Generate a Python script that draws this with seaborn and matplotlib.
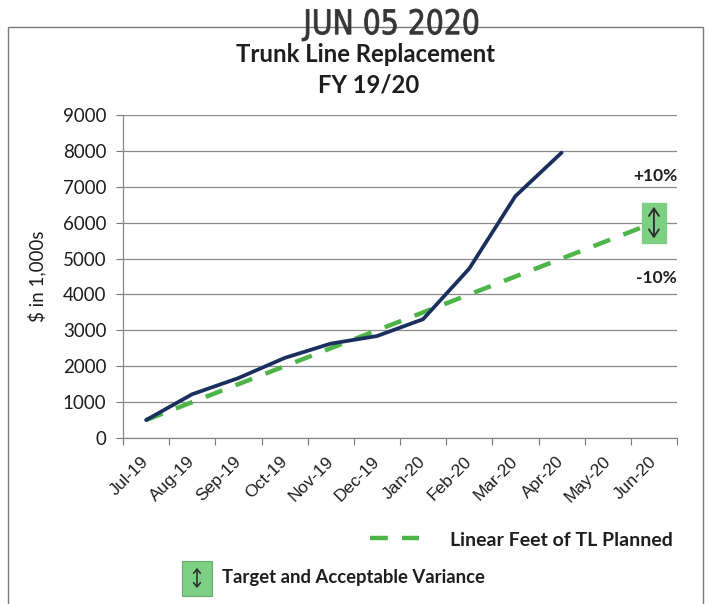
import numpy as np
import pandas as pd
import matplotlib
matplotlib.use("Agg")
import matplotlib.pyplot as plt
from matplotlib.path import Path
from matplotlib.patches import Rectangle, PathPatch, FancyArrowPatch
from matplotlib.lines import Line2D
from matplotlib.textpath import TextPath
from matplotlib.font_manager import FontProperties
from matplotlib.transforms import Affine2D, IdentityTransform
import seaborn as sns

# Monthly spend, $ in 1,000s
months = ["Jul-19", "Aug-19", "Sep-19", "Oct-19", "Nov-19", "Dec-19",
          "Jan-20", "Feb-20", "Mar-20", "Apr-20", "May-20", "Jun-20"]
actual = [500, 1220, 1670, 2230, 2630, 2840, 3310, 4720, 6740, 7950]
planned = [500, 1000, 1500, 2000, 2500, 3000, 3500, 4000, 4500, 5000, 5500, 6000]
target_month = "Jun-20"
target_value = 6000
yticks = [0, 1000, 2000, 3000, 4000, 5000, 6000, 7000, 8000, 9000]

sns.set_theme(style="white")
plt.rcParams["font.family"] = ["Lato", "DejaVu Sans"]

W, H = 709, 604
df_actual = pd.DataFrame({"x": np.arange(len(actual)), "value": actual})
df_plan = pd.DataFrame({"x": np.arange(len(planned)), "value": planned})

fig = plt.figure(figsize=(W / 100, H / 100), dpi=100)
ax = fig.add_axes([123 / W, 1 - 438 / H, (677 - 123) / W, (438 - 115) / H])

navy = "#1b2f5e"
green = "#4db548"
box_green = "#7ccf83"
ink = "#1e1e1e"
plan_dash = [4, 3.2]

sns.lineplot(data=df_plan, x="x", y="value", ax=ax, color=green, lw=3.2, zorder=3)
ax.lines[-1].set_dashes(plan_dash)
sns.lineplot(data=df_actual, x="x", y="value", ax=ax, color=navy, lw=2.7, zorder=4)

# target marker: tall green box with a double arrow
box = Path([(-0.62, -1), (0.62, -1), (0.62, 1), (-0.62, 1), (-0.62, -1)],
           [Path.MOVETO, Path.LINETO, Path.LINETO, Path.LINETO, Path.CLOSEPOLY])
tx = months.index(target_month)
ax.plot([tx], [target_value], marker=box, ms=29, mfc=box_green, mec=box_green,
        ls="none", zorder=5, clip_on=False)
ax.annotate("", xy=(tx, target_value + 440), xytext=(tx, target_value - 440),
            arrowprops=dict(arrowstyle="<->,head_length=0.45,head_width=0.3",
                            color="#2a2a2a", lw=1.3, shrinkA=0, shrinkB=0),
            zorder=6, annotation_clip=False)

ax.set_xlim(-0.5, len(months) - 0.5)
ax.set_ylim(0, 9000)
ax.set_yticks(yticks)
ax.set_yticklabels([str(v) for v in yticks], fontsize=13.5, color=ink)
ax.set_xticks(np.arange(len(months)))
ax.set_xticklabels(months, rotation=45, ha="right", va="center",
                   rotation_mode="anchor", fontsize=12.5,
                   family="Liberation Sans", color=ink)
ax.set_xticks(np.arange(len(months) + 1) - 0.5, minor=True)
ax.tick_params(axis="x", which="major", length=0, pad=15)
ax.tick_params(axis="x", which="minor", length=5, width=0.8, color="#777777",
               direction="out", bottom=True)
ax.tick_params(axis="y", length=5, width=0.8, color="#777777", direction="out",
               left=True, pad=7)
ax.grid(axis="y", color="#8a8a8a", lw=0.9)
ax.set_axisbelow(True)
for side in ["top", "right"]:
    ax.spines[side].set_visible(False)
for side in ["left", "bottom"]:
    ax.spines[side].set_color("#888888")
    ax.spines[side].set_linewidth(0.9)
ax.set_xlabel("")
ax.set_ylabel("$ in 1,000s", fontsize=13.5, color=ink, labelpad=12)

ax.text(1.0, 7300, "+10%", ha="right", va="center", fontsize=12.5,
        fontweight="bold", color=ink, transform=ax.get_yaxis_transform())
ax.text(1.0, 4470, "-10%", ha="right", va="center", fontsize=12.5,
        fontweight="bold", color=ink, transform=ax.get_yaxis_transform())

# titles
fig.text(366 / W, 1 - 55 / H, "Trunk Line Replacement", ha="center",
         va="center", fontsize=17.2, fontweight="bold", color=ink)
fig.text(369 / W, 1 - 85 / H, "FY 19/20", ha="center", va="center",
         fontsize=17.2, fontweight="bold", color=ink)

# chart frame
fig.add_artist(Rectangle((8 / W, -0.05), (703 - 8) / W, 1 - 27 / H + 0.05,
                         transform=fig.transFigure, fill=False,
                         ec="#7a7a7a", lw=1.0, zorder=0))

# received-date stamp, condensed to stamp proportions (pixel coordinates)
stamp = TextPath((0, 0), "JUN 05 2020", size=40,
                 prop=FontProperties(family="DejaVu Sans"))
ext = stamp.get_extents()
x0, x1, ytop, ybot = 302, 478, 9, 41
st = (Affine2D().translate(-ext.x0, -ext.y0)
      .scale((x1 - x0) / ext.width, (ybot - ytop) / ext.height)
      .translate(x0, H - ybot))
fig.add_artist(PathPatch(stamp, transform=st + IdentityTransform(),
                         fc="#353535", ec="#353535", lw=0.6, zorder=10))

# legend: planned line
fig.add_artist(Line2D([370 / W, 419 / W], [1 - 538 / H] * 2, color=green, lw=3.2,
                      dashes=plan_dash, transform=fig.transFigure))
fig.text(450 / W, 1 - 540 / H, "Linear Feet of TL Planned", ha="left",
         va="center", fontsize=14, fontweight="bold", color=ink)

# legend: target box
fig.add_artist(Rectangle((182 / W, 1 - 596 / H), 30 / W, 35 / H,
                         transform=fig.transFigure, fc=box_green, ec="#6aa86f",
                         lw=0.8))
fig.add_artist(FancyArrowPatch(
    (197 / W, 1 - 588 / H), (197 / W, 1 - 568 / H), transform=fig.transFigure,
    arrowstyle="<->,head_length=3,head_width=2.5", color="#2a2a2a", lw=1.1,
    shrinkA=0, shrinkB=0))
fig.text(222 / W, 1 - 577 / H, "Target and Acceptable Variance", ha="left",
         va="center", fontsize=13.3, fontweight="bold", color=ink)

fig.savefig("out.png", dpi=100, facecolor="white")
